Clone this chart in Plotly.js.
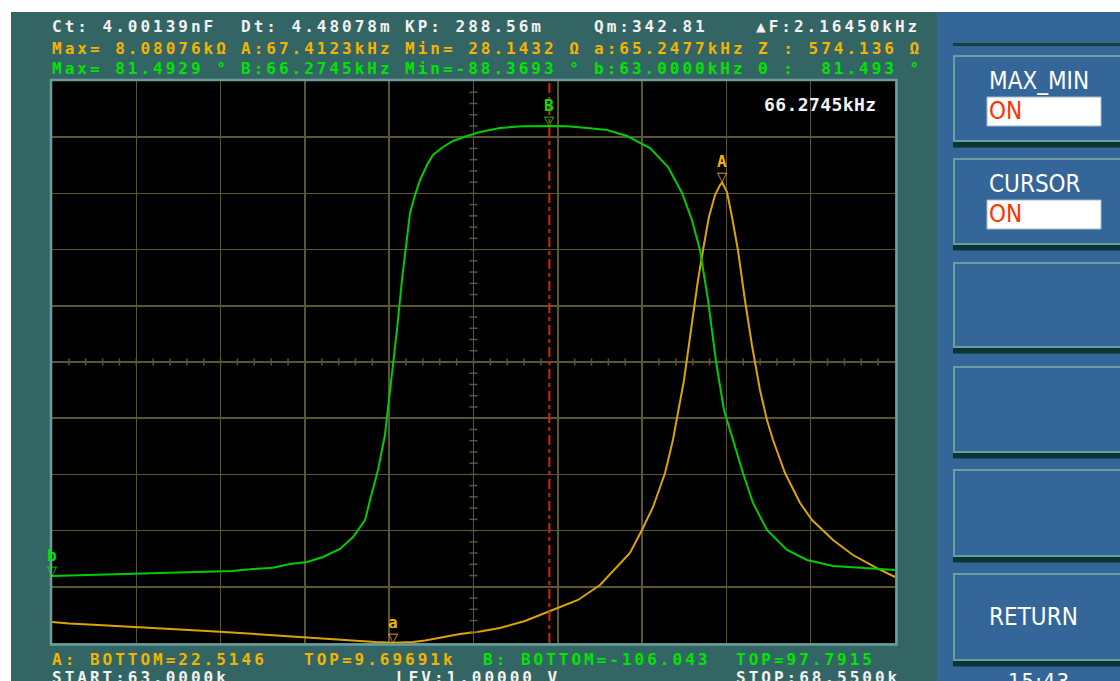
<!DOCTYPE html>
<html><head><meta charset="utf-8">
<script src="https://cdn.plot.ly/plotly-3.0.1.min.js"></script>
<style>html,body{margin:0;padding:0;background:#fff;overflow:hidden}#chart{width:1120px;height:681px}</style>
</head><body><div id="chart"></div>
<script>
// ---------- data ----------
const freqRange = [63.0, 68.55];            // kHz, START / STOP
const zAxisRange = [22.5146, 9696.91];      // A: BOTTOM / TOP (ohm)
const phaseAxisRange = [-106.043, 97.7915]; // B: BOTTOM / TOP (deg)
const cursorFreq = 66.2745;                 // kHz

const freqZ = [63.000,63.112,63.303,63.494,63.691,63.856,64.020,64.185,64.323,64.468,64.567,64.712,64.863,65.028,65.127,65.2477,65.377,65.456,65.686,65.818,65.949,66.114,66.279,66.463,66.608,66.720,66.805,66.884,66.957,67.036,67.088,67.161,67.207,67.253,67.292,67.325,67.365,67.398,67.4123,67.444,67.477,67.516,67.562,67.608,67.661,67.707,67.747,67.826,67.925,68.004,68.142,68.273,68.431,68.550];
const impedanceOhm = [384,358,332,307,281,255,229,203,177,152,134,109,83,57,40,28.14,40,66,177,220,281,401,573,763,1021,1331,1572,1968,2364,2949,3517,4550,5411,6271,6874,7356,7734,7906,7950,7786,7356,6788,5927,5152,4378,3861,3517,2949,2432,2140,1796,1537,1313,1159];

const freqPhase = [63.000,63.494,63.823,64.020,64.185,64.323,64.455,64.567,64.679,64.784,64.896,64.982,65.028,65.061,65.094,65.146,65.192,65.219,65.245,65.271,65.304,65.324,65.357,65.390,65.423,65.469,65.508,65.574,65.640,65.732,65.818,65.949,66.101,66.279,66.391,66.523,66.654,66.786,66.871,66.937,67.056,67.148,67.213,67.266,67.319,67.372,67.424,67.483,67.549,67.615,67.707,67.839,67.971,68.142,68.320,68.550];
const phaseDeg = [-81.74,-81.01,-80.65,-80.29,-79.93,-79.20,-78.73,-77.39,-76.66,-74.85,-71.95,-67.59,-63.97,-61.43,-54.18,-43.29,-30.60,-17.91,-4.49,7.48,25.62,35.41,49.92,56.45,61.89,67.33,70.95,73.85,76.03,77.84,79.29,80.75,81.40,81.49,81.40,80.75,80.02,77.84,75.31,73.49,66.60,57.17,47.38,36.50,18.36,-4.12,-21.53,-32.41,-44.38,-55.26,-65.06,-72.31,-75.94,-78.11,-78.84,-79.56];

// marker cursors: label, frequency (kHz), value, which curve
const markerLabels = ['A','a','B','b'];
const markerFreq = [67.4123, 65.2477, 66.2745, 63.0];
const markerValue = [7950, 28.14, 81.49, -81.74];
const markerCurve = ['z','z','p','p'];

// readout texts
const line1 = ['Ct: 4.00139nF','Dt: 4.48078m','KP: 288.56m','Qm:342.81','\u25B2F:2.16450kHz'];
const line2 = ['Max= 8.08076k\u03A9','A:67.4123kHz','Min= 28.1432 \u03A9','a:65.2477kHz','Z : 574.136 \u03A9'];
const line3 = ['Max= 81.4929 \u00B0','B:66.2745kHz','Min=-88.3693 \u00B0','b:63.0000kHz','\u03B8 :  81.493 \u00B0'];
const bottomA = ['A: BOTTOM=22.5146','TOP=9.69691k'];
const bottomB = ['B: BOTTOM=-106.043','TOP=97.7915'];
const statusLine = ['START:63.0000k','LEV:1.00000 V','STOP:68.5500k'];
const cursorText = '66.2745kHz';
const menuLabels = ['MAX_MIN','CURSOR','','','','RETURN'];
const menuValues = ['ON','ON','','','',''];
const clockText = '15:43';

// ---------- layout helpers ----------
const L=52, R=895, T=81, B=643;
const X = px => (px-L)/(R-L);
const Y = py => (B-py)/(B-T);

const cWhite='#f2f2f2', cOrange='#f2b400', cGreen='#00e400';
const curveOrange='#dca400', curveGreen='#00cc00';
const gridCol='#5a5634';
const mono='DejaVu Sans Mono, monospace';
const cond='DejaVu Sans Condensed, DejaVu Sans, sans-serif';

const annotations=[]; const spacing=[];
function txt(s, px, cy, color, size, sp, family, weight){
  annotations.push({text:s, xref:'paper', yref:'paper', x:X(px), y:Y(cy), xanchor:'left', yanchor:'middle', align:'left', showarrow:false, borderpad:0,
    font:{family:family||mono, size:size||16, color:color, weight:weight||'bold'}});
  spacing.push(sp===undefined?3:sp);
}
const colX = [51,240,404,593,755];
line1.forEach((s,i)=>txt(s, colX[i], 26.5, cWhite));
line2.forEach((s,i)=>txt(s, i===4?757:colX[i], 48.5, cOrange));
line3.forEach((s,i)=>txt(s, i===4?757:colX[i], 68.5, cGreen));
txt(bottomA[0],51,659,cOrange); txt(bottomA[1],303,659,cOrange);
txt(bottomB[0],482,659,cGreen); txt(bottomB[1],735,659,cGreen);
txt(statusLine[0],51,677,cWhite); txt(statusLine[1],395,677,cWhite); txt(statusLine[2],735,677,cWhite);
txt(cursorText,763,104.5,cWhite,18,0.4,mono,'bold');

// markers
markerLabels.forEach((m,i)=>{
  const col = markerCurve[i]==='z'?cOrange:cGreen;
  const yr = markerCurve[i]==='z'?'y':'y2';
  annotations.push({text:'\u25BD', xref:'x', yref:yr, x:markerFreq[i], y:markerValue[i], xanchor:'center', yanchor:'bottom', showarrow:false, borderpad:0, yshift:-3,
    font:{family:'DejaVu Sans', size:13, color:col, weight:'bold'}});
  spacing.push(0);
  annotations.push({text:m, xref:'x', yref:yr, x:markerFreq[i], y:markerValue[i], xanchor:'center', yanchor:'bottom', showarrow:false, borderpad:0, yshift:10,
    font:{family:mono, size:16, color:col, weight:'bold'}});
  spacing.push(0);
});

// menu
const btnTop=[55,158,262,366,469,573], btnBar=[142,245,348,453,557,661];
const shapes=[];
shapes.push({type:'rect',xref:'paper',yref:'paper',x0:X(-5),x1:X(11),y0:Y(700),y1:Y(-5),fillcolor:'#ffffff',line:{width:0},layer:'below'});
shapes.push({type:'rect',xref:'paper',yref:'paper',x0:X(-5),x1:X(1130),y0:Y(12),y1:Y(-5),fillcolor:'#ffffff',line:{width:0},layer:'below'});
shapes.push({type:'rect',xref:'paper',yref:'paper',x0:X(937),x1:X(1130),y0:Y(700),y1:Y(12),fillcolor:'#346699',line:{width:0},layer:'below'});
shapes.push({type:'rect',xref:'paper',yref:'paper',x0:X(953),x1:X(1130),y0:Y(46),y1:Y(43),fillcolor:'#173f40',line:{width:0},layer:'below'});
btnTop.forEach((t,i)=>{
  shapes.push({type:'rect',xref:'paper',yref:'paper',x0:X(954),x1:X(1135),y0:Y(btnBar[i]-1),y1:Y(t+1),fillcolor:'rgba(0,0,0,0)',line:{color:'#6b9e9e',width:2},layer:'below'});
  shapes.push({type:'rect',xref:'paper',yref:'paper',x0:X(953),x1:X(1135),y0:Y(btnBar[i]+5.5),y1:Y(btnBar[i]),fillcolor:'#0b3535',line:{width:0},layer:'below'});
  if(menuLabels[i]) txt(menuLabels[i], 988, t+(i===5?44:26), '#ffffff', 24, 0, cond, 'normal');
  if(menuValues[i]){
    shapes.push({type:'rect',xref:'paper',yref:'paper',x0:X(987),x1:X(1101),y0:Y(t+71),y1:Y(t+42),fillcolor:'#ffffff',line:{color:'#a8b8c8',width:1},layer:'below'});
    txt(menuValues[i], 988, t+56, '#ff3300', 24, 0, cond, 'normal');
  }
});
txt(clockText, 1007, 681, '#ffffff', 22, 1, cond, 'normal');

// centre cross minor ticks
for(let i=1;i<50;i++){
  shapes.push({type:'line',xref:'paper',yref:'paper',x0:i/50,x1:i/50,y0:0.5-3.5/562,y1:0.5+3.5/562,line:{color:gridCol,width:1.5}});
  shapes.push({type:'line',xref:'paper',yref:'paper',x0:0.5-4/843,x1:0.5+4/843,y0:i/50,y1:i/50,line:{color:gridCol,width:1.5}});
}
// cursor line
shapes.push({type:'line',xref:'x',yref:'paper',x0:cursorFreq,x1:cursorFreq,y0:0,y1:1,line:{color:'#e02400',width:2,dash:'10px,4px,4px,4px'}});
// plot frame
shapes.push({type:'rect',xref:'paper',yref:'paper',x0:X(51),x1:X(896.5),y0:Y(644.5),y1:Y(80),fillcolor:'rgba(0,0,0,0)',line:{color:'#6c9c9c',width:2.5}});

const traces=[
  {x:freqZ, y:impedanceOhm, yaxis:'y', mode:'lines', line:{color:curveOrange,width:2}, hoverinfo:'skip', cliponaxis:true},
  {x:freqPhase, y:phaseDeg, yaxis:'y2', mode:'lines', line:{color:curveGreen,width:2}, hoverinfo:'skip', cliponaxis:true}
];
const layout={
  width:1120, height:681, margin:{l:L,r:1120-R,t:T,b:681-B,pad:0},
  paper_bgcolor:'#346565', plot_bgcolor:'#000000', showlegend:false,
  xaxis:{range:freqRange, tick0:63, dtick:0.555, showgrid:true, gridcolor:gridCol, gridwidth:1.5, showticklabels:false, ticks:'', zeroline:false, showline:false, fixedrange:true},
  yaxis:{range:zAxisRange, tick0:zAxisRange[0], dtick:(zAxisRange[1]-zAxisRange[0])/10, showgrid:true, gridcolor:gridCol, gridwidth:1.5, showticklabels:false, ticks:'', zeroline:false, showline:false, fixedrange:true},
  yaxis2:{range:phaseAxisRange, overlaying:'y', side:'right', showgrid:false, showticklabels:false, ticks:'', zeroline:false, showline:false, fixedrange:true},
  shapes:shapes, annotations:annotations
};
Plotly.newPlot('chart', traces, layout, {staticPlot:true, displayModeBar:false}).then(()=>{
  document.querySelectorAll('#chart g.annotation').forEach(g=>{
    const i=+g.getAttribute('data-index');
    const t=g.querySelector('text.annotation-text');
    if(t && spacing[i]) t.style.letterSpacing=spacing[i]+'px';
  });
});
</script></body></html>
